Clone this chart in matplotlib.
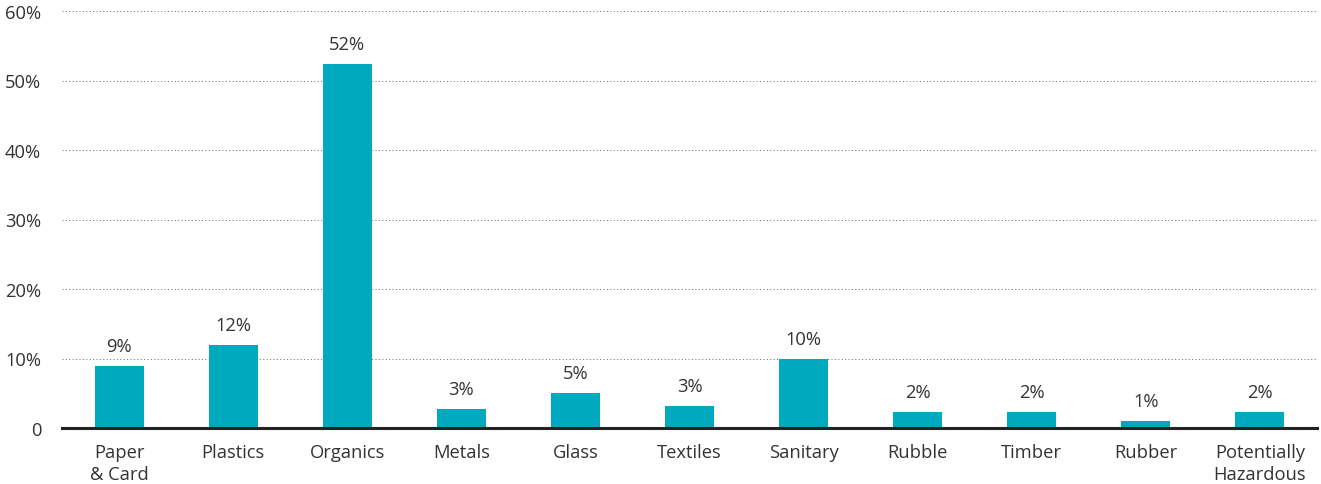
import matplotlib
matplotlib.use("Agg")
import matplotlib.pyplot as plt
from matplotlib.ticker import FuncFormatter

# Waste composition by category (% of total)
categories = ["Paper\n& Card", "Plastics", "Organics", "Metals", "Glass", "Textiles",
              "Sanitary", "Rubble", "Timber", "Rubber", "Potentially\nHazardous"]
shares = [8.9, 11.9, 52.4, 2.7, 5.0, 3.2, 9.9, 2.3, 2.3, 1.0, 2.3]
yticks = [0, 10, 20, 30, 40, 50, 60]

plt.rcParams['font.family'] = ['Open Sans', 'DejaVu Sans']
text_col = '#333333'
bar_col = '#00A9BD'
fs = 13.2

fig = plt.figure(figsize=(13.21, 4.85), dpi=100)
ax = fig.add_axes([62 / 1321, 1 - 429 / 485, (1317 - 62) / 1321, (429 - 12) / 485])

x = range(len(categories))
ax.bar(x, shares, width=0.43, color=bar_col, zorder=2)
for xi, v in zip(x, shares):
    ax.text(xi, v + 1.6, f"{v:.0f}%", ha='center', va='bottom', fontsize=fs, color=text_col)

ax.set_xlim(-0.5, len(categories) - 0.5)
ax.set_ylim(0, 60)
ax.set_yticks(yticks)
ax.yaxis.set_major_formatter(FuncFormatter(lambda v, p: "0" if v == 0 else f"{v:.0f}%"))
ax.set_xticks(list(x))
ax.set_xticklabels(categories, linespacing=1.25)
ax.tick_params(axis='both', length=0, labelsize=fs, colors=text_col)
ax.tick_params(axis='x', pad=11)
ax.tick_params(axis='y', pad=15)

ax.grid(axis='y', linestyle=(0, (1, 2.5)), color='#666666', linewidth=0.7, zorder=1)
for s in ['top', 'right', 'left']:
    ax.spines[s].set_visible(False)
ax.spines['bottom'].set_color('#222222')
ax.spines['bottom'].set_linewidth(2.2)
ax.spines['bottom'].set_zorder(3)

fig.savefig("out.png", dpi=100)
